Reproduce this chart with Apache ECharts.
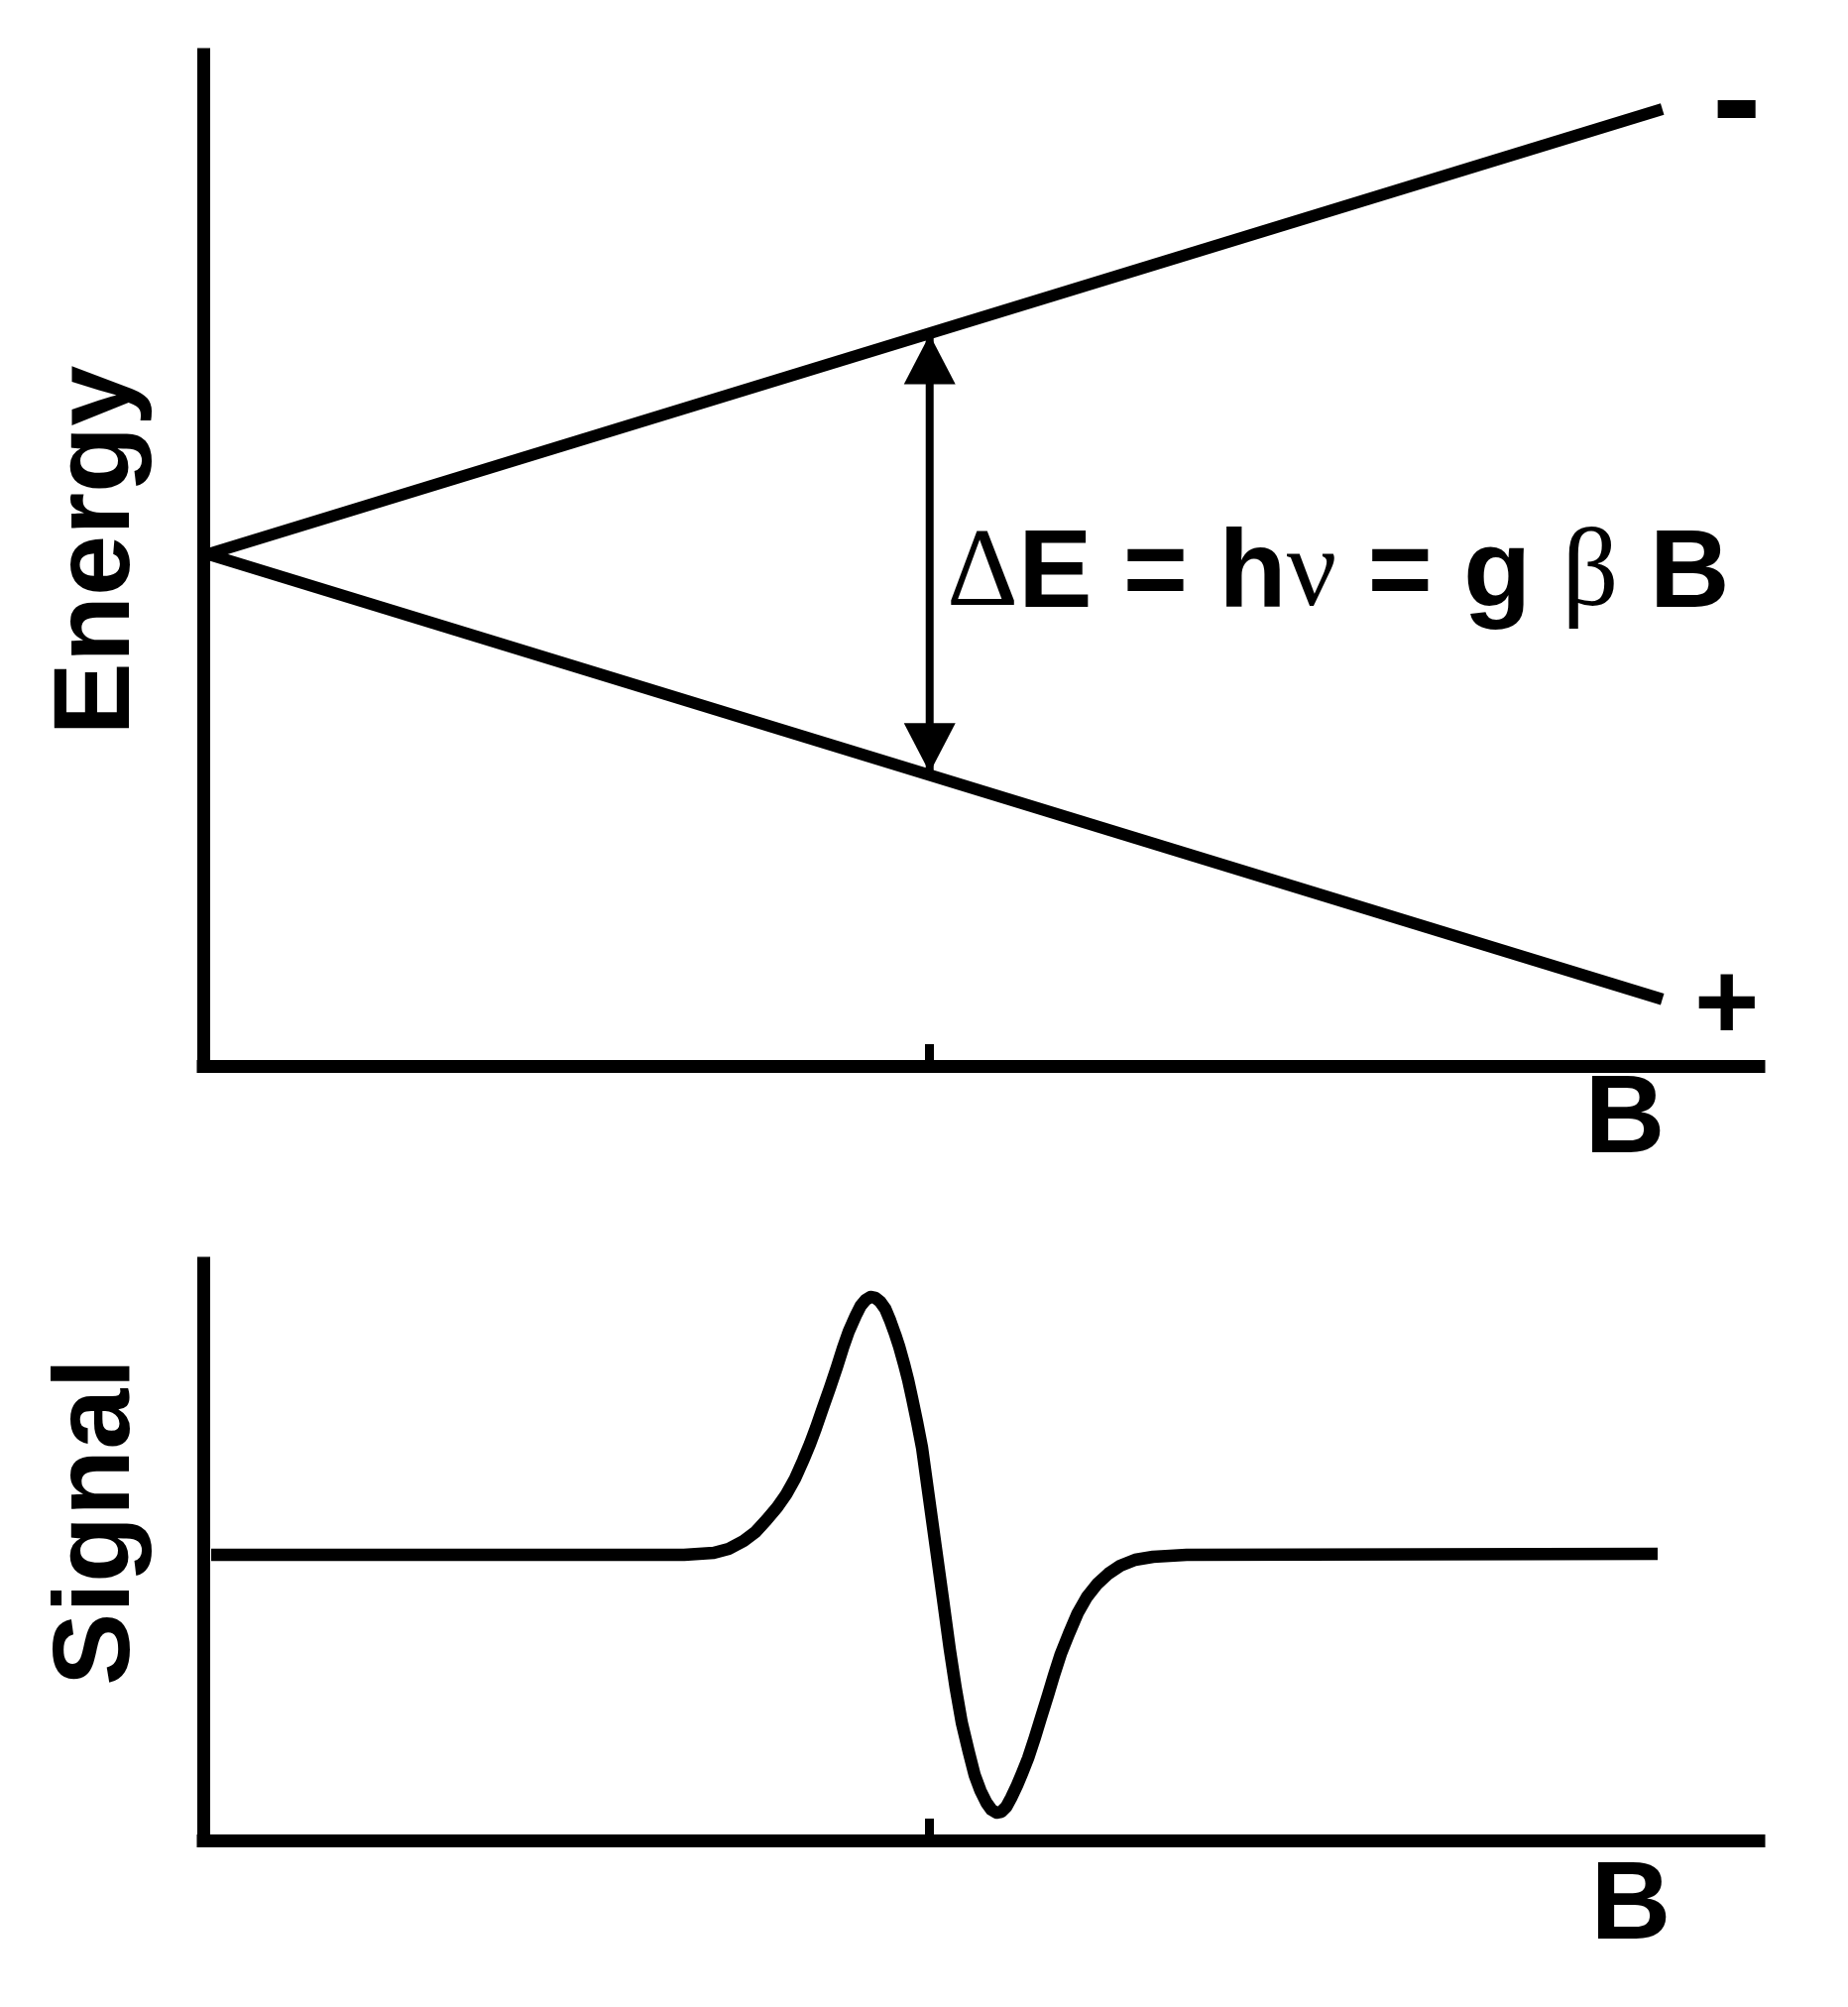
<!DOCTYPE html>
<html>
<head>
<meta charset="utf-8">
<script src="https://cdn.jsdelivr.net/npm/echarts@6/dist/echarts.min.js"></script>
<style>
  html, body { margin: 0; padding: 0; background: #fff; }
  #chart { width: 1864px; height: 2024px; }
</style>
</head>
<body>
<div id="chart"></div>
<script>
// top panel: Zeeman splitting of the two spin levels vs field B
const levelB = [0.3, 93.8];
const upperLevel = [50.6, 94.6];
const lowerLevel = [50.6, 6.6];
// resonance field (tick + arrow position) and arrow end energies
const resonanceB = 46.7;
const arrowEnergy = [29.0, 72.3];

// bottom panel: first-derivative absorption signal, read point by point
const signalB = [0.51, 30.91, 31.87, 32.82, 33.78, 34.74, 35.50, 36.20, 36.90, 37.48, 38.05, 38.56, 39.01, 39.39,
  39.83, 40.28, 40.73, 41.11, 41.49, 41.94, 42.26, 42.58, 42.89, 43.21, 43.53, 43.85, 44.17, 44.49, 44.74,
  45.06, 45.32, 45.57, 45.89, 46.21, 46.65, 47.10, 47.55, 47.99, 48.37, 48.76, 49.20, 49.59, 49.97, 50.35,
  50.67, 50.99, 51.31, 51.63, 51.94, 52.33, 52.65, 53.03, 53.47, 53.86, 54.30, 54.68, 55.13, 55.64, 56.21,
  56.79, 57.49, 58.19, 58.95, 59.91, 61.06, 63.22, 93.50];
const signalValues = [49.48, 49.48, 49.66, 49.83, 50.52, 51.89, 53.44, 55.50, 57.73, 59.97, 62.71, 65.81, 68.73, 71.48,
  74.91, 78.35, 81.96, 85.22, 88.14, 90.89, 92.61, 93.64, 94.16, 93.99, 93.30, 92.10, 90.03, 87.63, 85.57,
  82.47, 79.73, 76.63, 72.51, 68.04, 59.45, 50.69, 41.92, 33.16, 26.46, 20.45, 15.46, 11.34, 8.59, 6.53,
  5.33, 4.81, 4.98, 5.84, 7.39, 9.62, 11.68, 14.26, 17.87, 21.31, 25.09, 28.52, 32.30, 35.74, 39.35,
  42.10, 44.50, 46.22, 47.59, 48.63, 49.14, 49.48, 49.66];

const BLACK = '#000';
const SANS = "'Liberation Sans', Arial, sans-serif";
const SERIF = "'Liberation Serif', 'Times New Roman', serif";

const zip = (xs, ys) => xs.map((x, i) => [x, ys[i]]);

const xAxisBase = (gridIndex, nameGap, padTop) => ({
  type: 'value',
  gridIndex,
  min: 0,
  max: 100,
  name: 'B',
  nameLocation: 'end',
  nameGap,
  nameTextStyle: {
    color: BLACK, fontFamily: SANS, fontWeight: 'bold', fontSize: 112,
    align: 'center', verticalAlign: 'top', padding: [padTop, 0, 0, 0]
  },
  axisLine: { show: true, onZero: false, lineStyle: { color: BLACK, width: 13, cap: 'square' } },
  axisTick: { show: true, inside: true, length: 22, customValues: [resonanceB], lineStyle: { color: BLACK, width: 9 } },
  axisLabel: { show: false },
  splitLine: { show: false }
});

const yAxisBase = (gridIndex, name, pad) => ({
  type: 'value',
  gridIndex,
  min: 0,
  max: 100,
  name,
  nameLocation: 'middle',
  nameRotate: 90,
  nameGap: 50,
  nameTextStyle: {
    color: BLACK, fontFamily: SANS, fontWeight: 'bold', fontSize: 110, padding: pad
  },
  axisLine: { show: true, onZero: false, lineStyle: { color: BLACK, width: 13, cap: 'square' } },
  axisTick: { show: false },
  axisLabel: { show: false },
  splitLine: { show: false }
});

const levelLabel = (text, size, offset) => ({
  show: true,
  formatter: text,
  color: BLACK,
  fontFamily: SANS,
  fontWeight: 'bold',
  fontSize: size,
  align: 'center',
  verticalAlign: 'middle',
  distance: 0,
  offset
});

const chart = echarts.init(document.getElementById('chart'), null, { renderer: 'canvas' });

const option = {
  animation: false,
  backgroundColor: '#fff',
  grid: [
    { left: 205, right: 90, top: 55, bottom: 949, outerBoundsMode: 'none' },
    { left: 205, right: 90, top: 1274, bottom: 168, outerBoundsMode: 'none' }
  ],
  xAxis: [xAxisBase(0, -135, 0), xAxisBase(1, -129, 12)],
  yAxis: [yAxisBase(0, 'Energy', [0, 0, 0, 20]), yAxisBase(1, 'Signal', [0, 0, 0, 60])],
  graphic: [{
    type: 'text',
    x: 955,
    y: 581,
    style: {
      text: '{g|Δ}{b|E = h}{g|ν}{b| = g }{g|β}{b| B}',
      align: 'left',
      verticalAlign: 'middle',
      fill: BLACK,
      rich: {
        b: { fontFamily: SANS, fontWeight: 'bold', fontSize: 112, fill: BLACK, color: BLACK },
        g: { fontFamily: SERIF, fontWeight: 'normal', fontSize: 112, fill: BLACK, color: BLACK }
      }
    }
  }],
  series: [
    {
      name: 'upper',
      type: 'line',
      xAxisIndex: 0, yAxisIndex: 0,
      data: zip(levelB, upperLevel),
      showSymbol: false,
      clip: false,
      lineStyle: { color: BLACK, width: 12, cap: 'butt' },
      endLabel: levelLabel('-', 150, [75, -2])
    },
    {
      name: 'lower',
      type: 'line',
      xAxisIndex: 0, yAxisIndex: 0,
      data: zip(levelB, lowerLevel),
      showSymbol: false,
      clip: false,
      lineStyle: { color: BLACK, width: 12, cap: 'butt' },
      endLabel: levelLabel('+', 112, [65, 9])
    },
    {
      name: 'arrow',
      type: 'line',
      xAxisIndex: 0, yAxisIndex: 0,
      clip: false,
      symbol: 'triangle',
      symbolSize: [52, 50],
      showSymbol: true,
      itemStyle: { color: BLACK },
      lineStyle: { color: BLACK, width: 8 },
      data: [
        { value: [resonanceB, arrowEnergy[0]], symbolRotate: 180, symbolOffset: [0, -25] },
        { value: [resonanceB, arrowEnergy[1]], symbolRotate: 0, symbolOffset: [0, 25] }
      ]
    },
    {
      name: 'signal',
      type: 'line',
      xAxisIndex: 1, yAxisIndex: 1,
      data: zip(signalB, signalValues),
      showSymbol: false,
      smooth: false,
      clip: false,
      lineStyle: { color: BLACK, width: 12.5, join: 'round', cap: 'butt' }
    }
  ]
};

chart.setOption(option);
</script>
</body>
</html>
